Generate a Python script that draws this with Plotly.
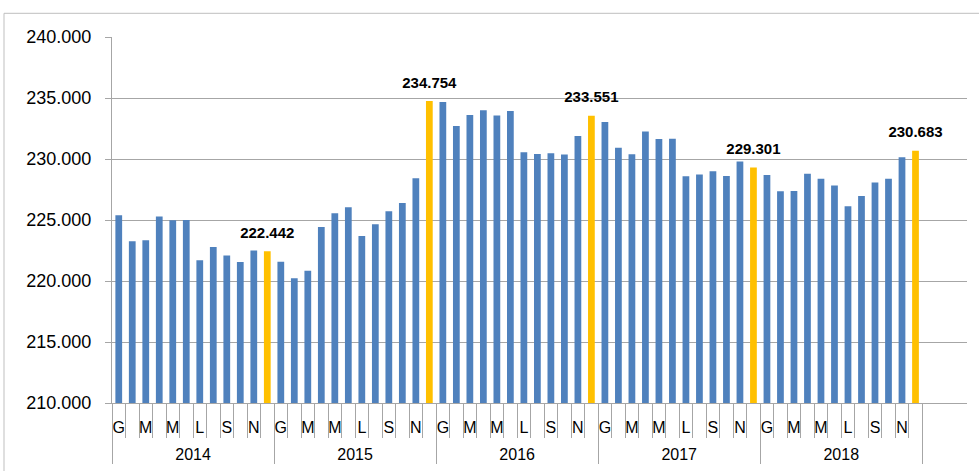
import plotly.graph_objects as go

years = ["2014", "2015", "2016", "2017", "2018"]
months = ["G", "F", "M", "A", "M", "G", "L", "A", "S", "O", "N", "D"]
month_shown = [True, False] * 6

values = [
    # 2014
    225390, 223250, 223340, 225280, 224980, 225000, 221700, 222790, 222100, 221560, 222490, 222442,
    # 2015
    221580, 220220, 220850, 224430, 225550, 226040, 223690, 224650, 225710, 226400, 228420, 234754,
    # 2016
    234670, 232700, 233610, 233990, 233560, 233930, 230550, 230410, 230470, 230360, 231890, 233551,
    # 2017
    233030, 230930, 230390, 232250, 231640, 231670, 228580, 228720, 228990, 228610, 229790, 229301,
    # 2018
    228690, 227350, 227380, 228800, 228390, 227820, 226120, 226970, 228070, 228390, 230140, 230683,
]

BLUE = "#4F81BD"
YELLOW = "#FFC000"
SPACER = '<br><span style="font-size:1px;color:rgba(0,0,0,0)">.</span>'

x_year, x_month, colors = [], [], []
for yi, yr in enumerate(years):
    for mi, m in enumerate(months):
        x_year.append(yr)
        shown = m if month_shown[mi] else ""
        x_month.append(shown + "\u200b" * (mi + 1) + SPACER)
        colors.append(YELLOW if mi == 11 else BLUE)

fig = go.Figure()
fig.add_trace(go.Bar(
    x=[x_year, x_month], y=values,
    marker=dict(color=colors, line=dict(width=0)),
    width=0.5,
    hoverinfo="y",
))

dec_idx = [i for i in range(len(values)) if i % 12 == 11]
dec_x = [[x_year[i] for i in dec_idx], [x_month[i] for i in dec_idx]]
dec_y = [values[i] for i in dec_idx]
fig.add_trace(go.Scatter(
    x=dec_x, y=dec_y, mode="markers+text",
    marker=dict(size=14, opacity=0),
    text=[f"{v:,}".replace(",", ".") for v in dec_y],
    textposition="top center",
    textfont=dict(family="Liberation Sans", size=15, color="black", weight="bold"),
    cliponaxis=False,
    hoverinfo="skip",
))

fig.update_layout(
    width=979, height=471,
    margin=dict(l=112, r=12, t=37, b=68, autoexpand=False),
    paper_bgcolor="white", plot_bgcolor="white",
    showlegend=False,
    separators=",.",
    bargap=0.5,
    font=dict(family="Liberation Sans", color="black"),
    shapes=[dict(type="rect", xref="paper", yref="paper",
                 x0=(4 - 112) / 855, x1=1.2, y0=-0.5, y1=(402.7 - 13) / 366,
                 line=dict(color="#BFBFBF", width=1), layer="below")],
)
fig.update_yaxes(
    range=[210000, 240000], dtick=5000, tickformat=",",
    showgrid=True, gridcolor="#A6A6A6", gridwidth=1,
    showline=True, linecolor="#A6A6A6", linewidth=1,
    ticks="outside", ticklen=6, tickcolor="#A6A6A6",
    tickfont=dict(size=18, family="Liberation Sans"),
    ticklabelstandoff=10,
    zeroline=False, automargin=False,
)
fig.update_xaxes(
    type="multicategory",
    tickmode="linear", tick0=0, dtick=1,
    showline=True, linecolor="#A6A6A6", linewidth=1,
    ticks="outside", ticklen=34, tickcolor="#A6A6A6",
    showdividers=True, dividercolor="#A6A6A6", dividerwidth=1,
    tickfont=dict(size=16, family="Liberation Sans"),
    tickangle=0,
    ticklabelstandoff=10,
    showgrid=False, automargin=False,
)

fig.write_html("out.html", post_script="document.body.style.margin='0';",
               config={"displayModeBar": False})
